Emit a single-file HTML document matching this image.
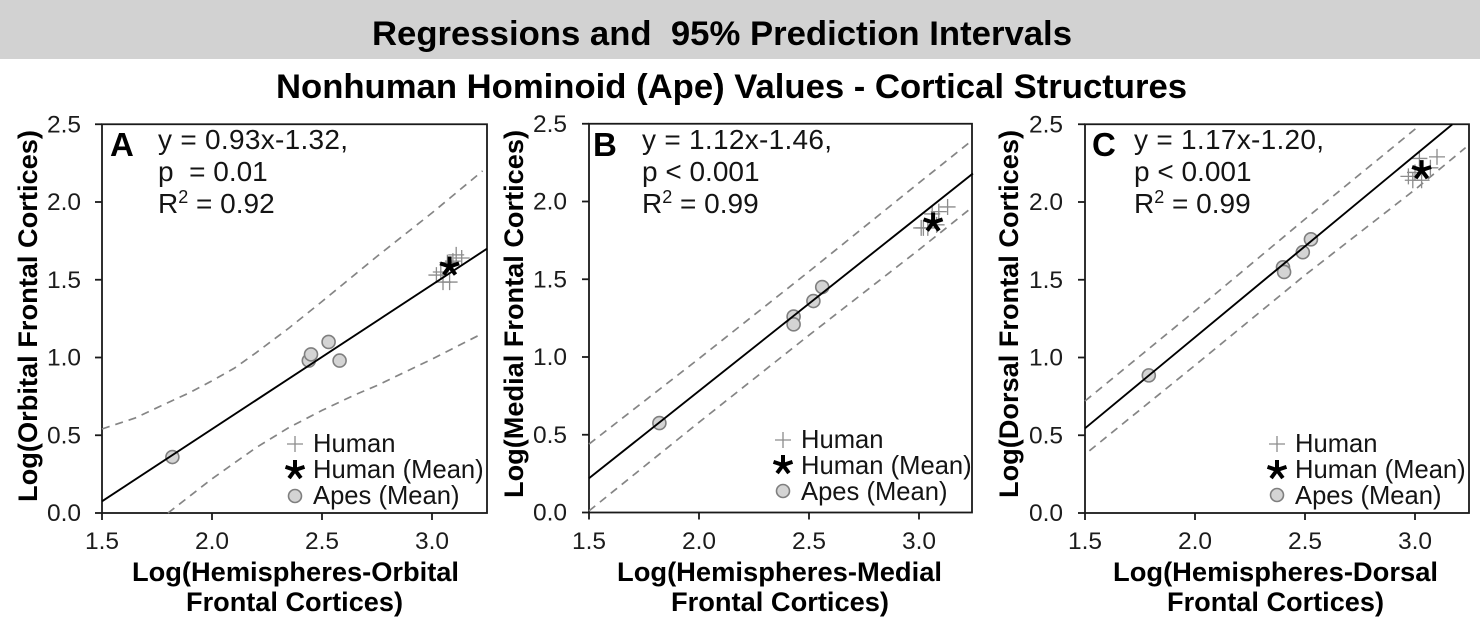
<!DOCTYPE html>
<html lang="en">
<head>
<meta charset="utf-8">
<title>Regressions and 95% Prediction Intervals</title>
<style>
html,body{margin:0;padding:0;background:#fff;}
svg{display:block;}
text{font-family:"Liberation Sans",Arial,sans-serif;fill:#141414;}
.b{font-weight:bold;fill:#000;}
.stat{font-size:28px;}
.leg{font-size:25.6px;}
.tick{font-size:24.5px;fill:#1c1c1c;}
.plabel{font-size:33px;font-weight:bold;fill:#000;}
.axt{font-size:27px;font-weight:bold;fill:#000;}
</style>
</head>
<body>
<svg id="figure" xmlns="http://www.w3.org/2000/svg" width="1480" height="631" viewBox="0 0 1480 631">
  <rect x="0" y="0" width="1480" height="631" fill="#ffffff"/>
  <rect x="0" y="0" width="1480" height="59" fill="#d2d2d2"/>
  <text class="b" x="372" y="45" font-size="34" textLength="700" lengthAdjust="spacingAndGlyphs" xml:space="preserve">Regressions and  95% Prediction Intervals</text>
  <text class="b" x="276" y="98" font-size="34" textLength="911" lengthAdjust="spacingAndGlyphs">Nonhuman Hominoid (Ape) Values - Cortical Structures</text>

  <g id="panelA">
    <text class="plabel" x="110" y="156">A</text>
    <text class="stat" x="158" y="149" textLength="190">y = 0.93x-1.32,</text>
    <text class="stat" x="158" y="181" xml:space="preserve">p  = 0.01</text>
    <text class="stat" x="158" y="213">R<tspan font-size="18" dy="-10">2</tspan><tspan dy="10"> = 0.92</tspan></text>
    <text class="axt" transform="translate(37,502) rotate(-90)" textLength="372" lengthAdjust="spacingAndGlyphs">Log(Orbital Frontal Cortices)</text>
    <text class="axt" x="132" y="581" textLength="327" lengthAdjust="spacingAndGlyphs">Log(Hemispheres-Orbital</text>
    <text class="axt" x="186" y="611" textLength="217" lengthAdjust="spacingAndGlyphs">Frontal Cortices)</text>
    <text class="leg" x="313" y="452">Human</text>
    <text class="leg" x="313" y="478">Human (Mean)</text>
    <text class="leg" x="313" y="504">Apes (Mean)</text>
  </g>

  <g id="panelB">
    <text class="plabel" x="593" y="156">B</text>
    <text class="stat" x="642" y="149" textLength="190">y = 1.12x-1.46,</text>
    <text class="stat" x="642" y="181">p &lt; 0.001</text>
    <text class="stat" x="642" y="213">R<tspan font-size="18" dy="-10">2</tspan><tspan dy="10"> = 0.99</tspan></text>
    <text class="axt" transform="translate(523,498) rotate(-90)" textLength="368" lengthAdjust="spacingAndGlyphs">Log(Medial Frontal Cortices)</text>
    <text class="axt" x="617" y="581" textLength="325" lengthAdjust="spacingAndGlyphs">Log(Hemispheres-Medial</text>
    <text class="axt" x="671" y="611" textLength="218" lengthAdjust="spacingAndGlyphs">Frontal Cortices)</text>
    <text class="leg" x="801" y="448">Human</text>
    <text class="leg" x="801" y="474">Human (Mean)</text>
    <text class="leg" x="801" y="500">Apes (Mean)</text>
  </g>

  <g id="panelC">
    <text class="plabel" x="1092" y="156">C</text>
    <text class="stat" x="1134" y="149" textLength="190">y = 1.17x-1.20,</text>
    <text class="stat" x="1134" y="181">p &lt; 0.001</text>
    <text class="stat" x="1134" y="213">R<tspan font-size="18" dy="-10">2</tspan><tspan dy="10"> = 0.99</tspan></text>
    <text class="axt" transform="translate(1018,498) rotate(-90)" textLength="368" lengthAdjust="spacingAndGlyphs">Log(Dorsal Frontal Cortices)</text>
    <text class="axt" x="1113" y="581" textLength="325" lengthAdjust="spacingAndGlyphs">Log(Hemispheres-Dorsal</text>
    <text class="axt" x="1167" y="611" textLength="217" lengthAdjust="spacingAndGlyphs">Frontal Cortices)</text>
    <text class="leg" x="1295" y="452">Human</text>
    <text class="leg" x="1295" y="478">Human (Mean)</text>
    <text class="leg" x="1295" y="504">Apes (Mean)</text>
  </g>
</svg>

<script>
// Shared axis data
var xTickValues = [1.5, 2.0, 2.5, 3.0];
var xTickLabels = ["1.5", "2.0", "2.5", "3.0"];
var yTickValues = [0.0, 0.5, 1.0, 1.5, 2.0, 2.5];
var yTickLabels = ["0.0", "0.5", "1.0", "1.5", "2.0", "2.5"];

// Panel A data
var aFitX = [1.5, 3.25];
var aFitY = [0.075, 1.70];
var aUpperX = [1.5, 1.65, 1.8, 1.9, 2.0, 2.1, 2.2, 2.35, 2.5, 2.75, 3.0, 3.23];
var aUpperY = [0.54, 0.61, 0.71, 0.775, 0.85, 0.93, 1.03, 1.19, 1.36, 1.65, 1.93, 2.20];
var aLowerX = [1.8, 2.0, 2.2, 2.35, 2.5, 2.65, 2.75, 3.0, 3.23];
var aLowerY = [0.0, 0.22, 0.42, 0.55, 0.66, 0.76, 0.82, 0.99, 1.155];
var aHumanX = [3.02, 3.04, 3.05, 3.08, 3.07, 3.11, 3.135, 3.095];
var aHumanY = [1.53, 1.55, 1.485, 1.485, 1.61, 1.66, 1.64, 1.62];
var aHumanMeanX = [3.08];
var aHumanMeanY = [1.585];
var aApesX = [1.82, 2.44, 2.45, 2.53, 2.58];
var aApesY = [0.36, 0.98, 1.02, 1.10, 0.98];

// Panel B data
var bFitX = [1.5, 3.245];
var bFitY = [0.22, 2.18];
var bUpperX = [1.5, 2.0, 2.5, 3.0, 3.23];
var bUpperY = [0.44, 0.99, 1.55, 2.12, 2.38];
var bLowerX = [1.5, 2.0, 2.5, 3.0, 3.23];
var bLowerY = [0.01, 0.58, 1.14, 1.69, 1.95];
var bHumanX = [3.01, 3.02, 3.04, 3.13, 3.09, 3.06, 3.08];
var bHumanY = [1.83, 1.83, 1.83, 1.965, 1.935, 1.92, 1.85];
var bHumanMeanX = [3.064];
var bHumanMeanY = [1.865];
var bApesX = [1.82, 2.43, 2.43, 2.52, 2.56];
var bApesY = [0.575, 1.26, 1.21, 1.36, 1.45];

// Panel C data
var cFitX = [1.5, 3.17];
var cFitY = [0.545, 2.5];
var cUpperX = [1.5, 2.0, 2.5, 3.01];
var cUpperY = [0.72, 1.30, 1.89, 2.48];
var cLowerX = [1.52, 2.0, 2.5, 3.0, 3.23];
var cLowerY = [0.40, 0.95, 1.53, 2.08, 2.35];
var cHumanX = [3.10, 2.97, 2.99, 3.02, 3.07, 3.03, 3.0];
var cHumanY = [2.29, 2.165, 2.14, 2.28, 2.22, 2.14, 2.19];
var cHumanMeanX = [3.03];
var cHumanMeanY = [2.205];
var cApesX = [1.79, 2.40, 2.405, 2.49, 2.527];
var cApesY = [0.885, 1.58, 1.55, 1.677, 1.76];

var SVGNS = "http://www.w3.org/2000/svg";

function make(tag, parent, attrs) {
  var el = document.createElementNS(SVGNS, tag);
  for (var k in attrs) { el.setAttribute(k, attrs[k]); }
  parent.appendChild(el);
  return el;
}

function pointsFrom(xs, ys, sx, sy) {
  var out = [];
  for (var i = 0; i < xs.length; i++) { out.push(sx(xs[i]).toFixed(1) + "," + sy(ys[i]).toFixed(1)); }
  return out.join(" ");
}

function drawPlus(parent, cx, cy, arm) {
  var el = make("path", parent, {
    d: "M" + (cx - arm) + " " + cy + "H" + (cx + arm) + "M" + cx + " " + (cy - arm) + "V" + (cy + arm),
    fill: "none", stroke: "#8c8c8c", "stroke-width": 1.3
  });
  
  
}

function drawStar(parent, cx, cy, arm) {
  var d = "";
  for (var i = 0; i < 5; i++) {
    var t = (i * 72 - 90) * Math.PI / 180;
    d += "M" + cx + " " + cy + "L" + (cx + arm * Math.cos(t)).toFixed(1) + " " + (cy + arm * Math.sin(t)).toFixed(1);
  }
  var el = make("path", parent, { d: d, fill: "none", stroke: "#000", "stroke-width": 4 });
  
  
}

function drawCircle(parent, cx, cy) {
  var el = make("circle", parent, { cx: cx, cy: cy, r: 6.5, fill: "#d4d4d4", stroke: "#7f7f7f", "stroke-width": 1.6 });
  
  
}

function drawPanel(cfg) {
  var g = document.getElementById(cfg.id);
  var sx = function (v) { return cfg.left + (v - 1.5) * 220; };
  var sy = function (v) { return cfg.bottom - v * 155.5; };
  var top = sy(2.5);

  // Frame
  var frame = make("rect", g, { x: cfg.left, y: top, width: cfg.right - cfg.left, height: cfg.bottom - top, fill: "none", stroke: "#1a1a1a", "stroke-width": 1.8 });
  
  

  // Ticks and tick labels
  xTickValues.forEach(function (v, i) {
    var t = make("line", g, { x1: sx(v), x2: sx(v), y1: cfg.bottom, y2: cfg.bottom + 7, stroke: "#1a1a1a", "stroke-width": 1.8 });
    
    
    var lb = make("text", g, { x: sx(v), y: 549, "text-anchor": "middle", "class": "tick" });
    lb.textContent = xTickLabels[i];
    
    
  });
  yTickValues.forEach(function (v, i) {
    var t = make("line", g, { x1: cfg.left - 7, x2: cfg.left, y1: sy(v), y2: sy(v), stroke: "#1a1a1a", "stroke-width": 1.8 });
    
    
    var lb = make("text", g, { x: cfg.labelEnd, y: sy(v) + 8, "text-anchor": "end", "class": "tick" });
    lb.textContent = yTickLabels[i];
    
    
  });

  // Prediction interval curves
  var upper = make("polyline", g, { points: pointsFrom(cfg.upperX, cfg.upperY, sx, sy), fill: "none", stroke: "#858585", "stroke-width": 1.7, "stroke-dasharray": "8 6" });
  
  
  var lower = make("polyline", g, { points: pointsFrom(cfg.lowerX, cfg.lowerY, sx, sy), fill: "none", stroke: "#858585", "stroke-width": 1.7, "stroke-dasharray": "8 6" });
  
  

  // Human points (under the fit line)
  cfg.humanX.forEach(function (v, i) { drawPlus(g, sx(v), sy(cfg.humanY[i]), 8); });

  // Ape means
  cfg.apesX.forEach(function (v, i) { drawCircle(g, sx(v), sy(cfg.apesY[i])); });

  // Regression line
  var fit = make("polyline", g, { points: pointsFrom(cfg.fitX, cfg.fitY, sx, sy), fill: "none", stroke: "#000", "stroke-width": 1.9 });
  
  

  // Human mean
  cfg.meanX.forEach(function (v, i) { drawStar(g, sx(v), sy(cfg.meanY[i]), 10); });

  // Legend symbols
  drawPlus(g, cfg.legendX, cfg.legendY[0], 8);
  drawStar(g, cfg.legendX, cfg.legendY[1], 10);
  drawCircle(g, cfg.legendX, cfg.legendY[2]);
}

drawPanel({ id: "panelA", left: 102, right: 487, bottom: 513, labelEnd: 81, legendX: 295, legendY: [444, 470, 496],
  fitX: aFitX, fitY: aFitY, upperX: aUpperX, upperY: aUpperY, lowerX: aLowerX, lowerY: aLowerY,
  humanX: aHumanX, humanY: aHumanY, meanX: aHumanMeanX, meanY: aHumanMeanY, apesX: aApesX, apesY: aApesY });
drawPanel({ id: "panelB", left: 589, right: 972, bottom: 512.5, labelEnd: 567, legendX: 783, legendY: [440, 465, 491],
  fitX: bFitX, fitY: bFitY, upperX: bUpperX, upperY: bUpperY, lowerX: bLowerX, lowerY: bLowerY,
  humanX: bHumanX, humanY: bHumanY, meanX: bHumanMeanX, meanY: bHumanMeanY, apesX: bApesX, apesY: bApesY });
drawPanel({ id: "panelC", left: 1085, right: 1469, bottom: 513, labelEnd: 1063, legendX: 1277, legendY: [444, 470, 495],
  fitX: cFitX, fitY: cFitY, upperX: cUpperX, upperY: cUpperY, lowerX: cLowerX, lowerY: cLowerY,
  humanX: cHumanX, humanY: cHumanY, meanX: cHumanMeanX, meanY: cHumanMeanY, apesX: cApesX, apesY: cApesY });
</script>
</body>
</html>
